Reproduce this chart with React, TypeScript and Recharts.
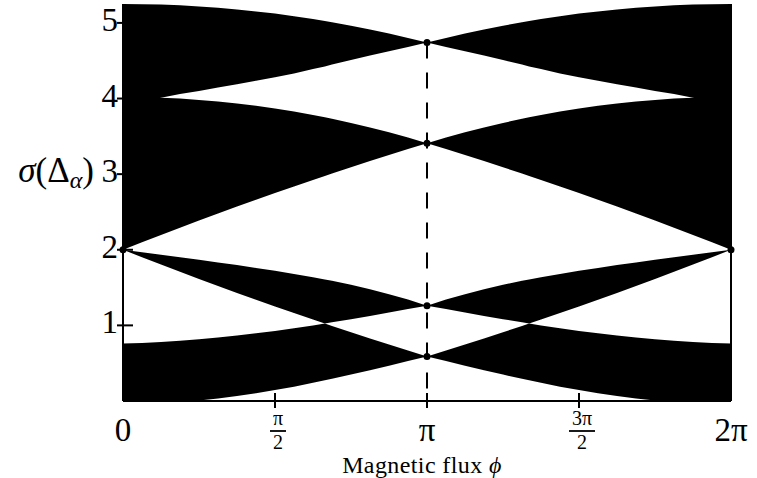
import React from 'react'
import { ComposedChart, Area, Scatter, XAxis, YAxis, ReferenceLine } from 'recharts'

const PI = Math.PI
const FONT = '"Liberation Serif", "DejaVu Serif", serif'

// flux samples, in units of pi
const phiOverPi = [
    0, 0.0625, 0.125, 0.1875, 0.25, 0.3125, 0.375, 0.4375, 0.5, 0.5625, 0.625, 0.664, 0.6875, 0.75, 0.8125, 0.875, 0.9375,
    1, 1.0625, 1.125, 1.1875, 1.25, 1.3125, 1.336, 1.375, 1.4375, 1.5, 1.5625, 1.625, 1.6875, 1.75, 1.8125, 1.875, 1.9375, 2,
]

// band 1 (lowest)
const band1Lo = [
    0, 0, 0, 0, 0.008, 0.034, 0.066, 0.103, 0.145, 0.19, 0.24, 0.273, 0.293, 0.349, 0.407, 0.467, 0.528,
    0.59, 0.528, 0.467, 0.407, 0.349, 0.293, 0.273, 0.24, 0.19, 0.145, 0.103, 0.066, 0.034, 0.008, 0, 0, 0, 0,
]
const band1Hi = [
    0.76, 0.768, 0.78, 0.796, 0.815, 0.839, 0.865, 0.895, 0.927, 0.963, 1.0, 1.025, 0.992, 0.909, 0.827, 0.747, 0.668,
    0.59, 0.668, 0.747, 0.827, 0.909, 0.992, 1.025, 1.0, 0.963, 0.927, 0.895, 0.865, 0.839, 0.815, 0.796, 0.78, 0.768, 0.76,
]

// band 2
const band2Lo = [
    2.0, 1.901, 1.804, 1.708, 1.614, 1.521, 1.429, 1.339, 1.25, 1.163, 1.077, 1.025, 1.04, 1.082, 1.125, 1.169, 1.215,
    1.26, 1.215, 1.169, 1.125, 1.082, 1.04, 1.025, 1.077, 1.163, 1.25, 1.339, 1.429, 1.521, 1.614, 1.708, 1.804, 1.901, 2.0,
]
const band2Hi = [
    2.0, 1.967, 1.934, 1.9, 1.867, 1.832, 1.797, 1.76, 1.722, 1.681, 1.637, 1.607, 1.589, 1.536, 1.478, 1.413, 1.341,
    1.26, 1.341, 1.413, 1.478, 1.536, 1.589, 1.607, 1.637, 1.681, 1.722, 1.76, 1.797, 1.832, 1.867, 1.9, 1.934, 1.967, 2.0,
]

// band 3
const band3Lo = [
    2.0, 2.099, 2.196, 2.292, 2.386, 2.479, 2.571, 2.661, 2.75, 2.837, 2.924, 2.976, 3.008, 3.091, 3.173, 3.254, 3.332,
    3.41, 3.332, 3.254, 3.173, 3.091, 3.008, 2.976, 2.924, 2.837, 2.75, 2.661, 2.571, 2.479, 2.386, 2.292, 2.196, 2.099, 2.0,
]
const band3Hi = [
    4.02, 4.018, 4.01, 3.999, 3.982, 3.96, 3.934, 3.903, 3.868, 3.827, 3.782, 3.751, 3.732, 3.677, 3.617, 3.553, 3.484,
    3.41, 3.484, 3.553, 3.617, 3.677, 3.732, 3.751, 3.782, 3.827, 3.868, 3.903, 3.934, 3.96, 3.982, 3.999, 4.01, 4.018, 4.02,
]

// band 4 (top)
const band4Lo = [
    3.93, 3.95, 4.01, 4.06, 4.1, 4.145, 4.19, 4.235, 4.28, 4.33, 4.39, 4.425, 4.45, 4.51, 4.57, 4.625, 4.68,
    4.74, 4.68, 4.625, 4.57, 4.51, 4.45, 4.425, 4.39, 4.33, 4.28, 4.235, 4.19, 4.145, 4.1, 4.06, 4.01, 3.95, 3.93,
]
const band4Hi = [
    5.25, 5.248, 5.242, 5.232, 5.218, 5.2, 5.178, 5.152, 5.123, 5.089, 5.051, 5.025, 5.009, 4.963, 4.913, 4.86, 4.802,
    4.74, 4.802, 4.86, 4.913, 4.963, 5.009, 5.025, 5.051, 5.089, 5.123, 5.152, 5.178, 5.2, 5.218, 5.232, 5.242, 5.248, 5.25,
]

// band touching points
const touchX = [0, 1, 1, 1, 1, 2]
const touchY = [2, 4.74, 3.41, 1.26, 0.59, 2]

const xTicks = [0, 0.5, 1, 1.5, 2]
const xTickLabels = ['0', 'π/2', 'π', '3π/2', '2π']
const yTicks = [1, 2, 3, 4, 5]

const rows = phiOverPi.map((t, i) => ({
    x: t * PI,
    b1: [band1Lo[i], band1Hi[i]],
    b2: [band2Lo[i], band2Hi[i]],
    b3: [band3Lo[i], band3Hi[i]],
    b4: [band4Lo[i], band4Hi[i]],
}))

const dots = touchX.map((t, i) => ({ x: t * PI, y: touchY[i] }))

function XTick(props: any) {
    const { x, y, payload } = props
    const idx = xTicks.findIndex((t) => Math.abs(t * PI - payload.value) < 1e-6)
    const label = xTickLabels[idx] ?? ''
    const edge = idx === 0 || idx === xTicks.length - 1
    const parts = label.split('/')
    return (
        <g>
            {!edge && <line x1={x} x2={x} y1={y - 8} y2={y + 7} stroke="#000" strokeWidth={2} />}
            {parts.length === 2 ? (
                <g fontFamily={FONT} fontSize={20} fill="#000" textAnchor="middle">
                    <text x={x + 3} y={y + 24}>{parts[0]}</text>
                    <line
                        x1={x + 3 - (parts[0].length > 1 ? 13 : 8)}
                        x2={x + 3 + (parts[0].length > 1 ? 13 : 8)}
                        y1={y + 30}
                        y2={y + 30}
                        stroke="#000"
                        strokeWidth={1.8}
                    />
                    <text x={x + 3} y={y + 48}>{parts[1]}</text>
                </g>
            ) : (
                <text x={x} y={y + 40} fontFamily={FONT} fontSize={33} fill="#000" textAnchor="middle">
                    {label}
                </text>
            )}
        </g>
    )
}

function YTick(props: any) {
    const { x, y, payload } = props
    return (
        <g>
            <line x1={x - 6} x2={x + 10} y1={y} y2={y} stroke="#000" strokeWidth={2} />
            <text x={x - 5} y={y + 8} fontFamily={FONT} fontSize={33} fill="#000" textAnchor="end">
                {payload.value}
            </text>
        </g>
    )
}

export default function App() {
    return (
        <div style={{ position: 'absolute', left: 0, top: 0, width: 757, height: 478, background: '#fff' }}>
            <ComposedChart width={757} height={478} data={rows} margin={{ top: 4, right: 26, bottom: 0, left: 0 }}>
                <Area dataKey="b1" type="linear" stroke="none" fill="#000" fillOpacity={1} isAnimationActive={false} dot={false} activeDot={false} />
                <Area dataKey="b2" type="linear" stroke="none" fill="#000" fillOpacity={1} isAnimationActive={false} dot={false} activeDot={false} />
                <Area dataKey="b3" type="linear" stroke="none" fill="#000" fillOpacity={1} isAnimationActive={false} dot={false} activeDot={false} />
                <Area dataKey="b4" type="linear" stroke="none" fill="#000" fillOpacity={1} isAnimationActive={false} dot={false} activeDot={false} />
                <ReferenceLine
                    segment={[{ x: PI, y: touchY[1] }, { x: PI, y: 0 }]}
                    stroke="#000"
                    strokeWidth={2}
                    strokeDasharray="16 14"
                />
                <ReferenceLine x={2 * PI} stroke="#000" strokeWidth={2} />
                <XAxis
                    dataKey="x"
                    type="number"
                    domain={[0, 2 * PI]}
                    ticks={xTicks.map((t) => t * PI)}
                    interval={0}
                    height={77}
                    tickSize={0}
                    tickMargin={0}
                    tickLine={false}
                    axisLine={{ stroke: '#000', strokeWidth: 2 }}
                    tick={<XTick />}
                    label={() => (
                        <text x={422} y={473} fontFamily={FONT} fontSize={24} letterSpacing={0.4} fill="#000" textAnchor="middle">
                            Magnetic flux <tspan fontStyle="italic">ϕ</tspan>
                        </text>
                    )}
                />
                <YAxis
                    type="number"
                    domain={[0, 5.25]}
                    ticks={yTicks}
                    interval={0}
                    width={123}
                    tickSize={0}
                    tickMargin={0}
                    tickLine={false}
                    axisLine={{ stroke: '#000', strokeWidth: 2 }}
                    tick={<YTick />}
                    label={() => (
                        <text x={94} y={182} fontFamily={FONT} fontSize={35} fill="#000" textAnchor="end">
                            <tspan fontStyle="italic">σ</tspan>
                            <tspan>(Δ</tspan>
                            <tspan fontStyle="italic" fontSize={24} dy={6}>α</tspan>
                            <tspan dy={-6}>)</tspan>
                        </text>
                    )}
                />
                <Scatter
                    data={dots}
                    dataKey="y"
                    fill="#000"
                    isAnimationActive={false}
                    shape={(p: any) => <circle cx={p.cx} cy={p.cy} r={3.5} fill="#000" />}
                />
            </ComposedChart>
        </div>
    )
}
